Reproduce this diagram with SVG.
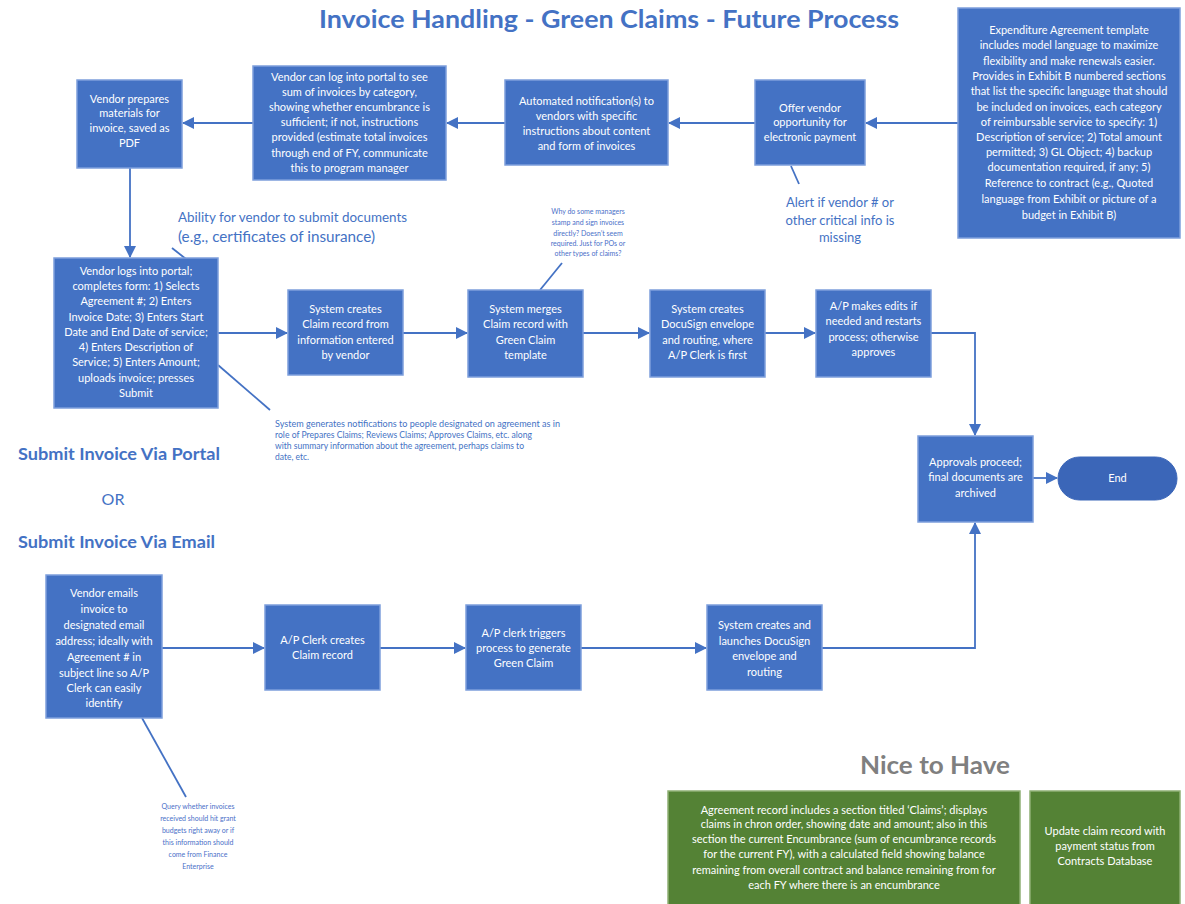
<svg xmlns="http://www.w3.org/2000/svg" width="1185" height="904" viewBox="0 0 1185 904">
<defs>
<marker id="arr" markerUnits="userSpaceOnUse" markerWidth="12" markerHeight="12" refX="11" refY="6" orient="auto">
<path d="M0,0 L12,6 L0,12 z" fill="#4472C4"/>
</marker>
<style>
.box{fill:#4472C4;stroke:#7d9fdc;stroke-width:1.5}
.gbox{fill:#548235;stroke:#8fb074;stroke-width:1.5}
.bt{font-family:Lato,"Liberation Sans",sans-serif;font-size:11px;fill:#ffffff;text-anchor:middle}
.ln{stroke:#4472C4;stroke-width:1.8;fill:none}
.ar{stroke:#4472C4;stroke-width:1.8;fill:none;marker-end:url(#arr)}
.note{font-family:Lato,"Liberation Sans",sans-serif;fill:#4472C4}
.tiny{font-family:Lato,"Liberation Sans",sans-serif;font-size:7px;fill:#4a6fc8;text-anchor:middle}
.lbl{font-family:Lato,"Liberation Sans",sans-serif;font-size:17px;font-weight:bold;fill:#4472C4}
</style>
</defs>
<rect width="1185" height="904" fill="#ffffff"/>
<text x="609" y="28" text-anchor="middle" font-family="Lato,'Liberation Sans',sans-serif" font-size="24" font-weight="bold" fill="#4472C4" textLength="580" lengthAdjust="spacingAndGlyphs">Invoice Handling - Green Claims - Future Process</text>

<g id="connectors">
<line class="ar" x1="958" y1="123" x2="866" y2="123"/>
<line class="ar" x1="755" y1="123" x2="669" y2="123"/>
<line class="ar" x1="505" y1="123" x2="447" y2="123"/>
<line class="ar" x1="253" y1="123" x2="183" y2="123"/>
<line class="ar" x1="130" y1="168" x2="130" y2="257"/>
<line class="ar" x1="218" y1="333" x2="287" y2="333"/>
<line class="ar" x1="403" y1="333" x2="467" y2="333"/>
<line class="ar" x1="583" y1="333" x2="649" y2="333"/>
<line class="ar" x1="765" y1="333" x2="815" y2="333"/>
<polyline class="ar" points="931,333 975,333 975,435"/>
<line class="ar" x1="1033" y1="478" x2="1057" y2="478"/>
<line class="ar" x1="162" y1="648" x2="264" y2="648"/>
<line class="ar" x1="380" y1="648" x2="465" y2="648"/>
<line class="ar" x1="581" y1="648" x2="706" y2="648"/>
<polyline class="ar" points="822,648 975,648 975,523"/>
<line class="ln" x1="791" y1="166" x2="799" y2="184" stroke-width="1.2"/>
<line class="ln" x1="172" y1="248" x2="186" y2="259" stroke-width="1.2"/>
<line class="ln" x1="540" y1="290" x2="562" y2="263" stroke-width="1.2"/>
<line class="ln" x1="218" y1="365" x2="270" y2="410" stroke-width="1.2"/>
<line class="ln" x1="142" y1="718" x2="186" y2="797" stroke-width="1.2"/>
</g>

<g id="n-expenditure">
<rect class="box" x="958" y="8" width="222" height="230"/>
<text class="bt" x="1069" y="34">Expenditure Agreement template</text>
<text class="bt" x="1069" y="49">includes model language to maximize</text>
<text class="bt" x="1069" y="65">flexibility and make renewals easier.</text>
<text class="bt" x="1069" y="80">Provides in Exhibit B numbered sections</text>
<text class="bt" x="1069" y="95">that list the specific language that should</text>
<text class="bt" x="1069" y="111">be included on invoices,  each  category</text>
<text class="bt" x="1069" y="126">of reimbursable service to specify: 1)</text>
<text class="bt" x="1069" y="141">Description of service; 2) Total amount</text>
<text class="bt" x="1069" y="156">permitted; 3) GL Object; 4) backup</text>
<text class="bt" x="1069" y="171">documentation required, if any; 5)</text>
<text class="bt" x="1069" y="187">Reference to contract (e.g., Quoted</text>
<text class="bt" x="1069" y="203">language from Exhibit  or picture of a</text>
<text class="bt" x="1069" y="219">budget in Exhibit B)</text>
</g>

<g id="n-offer">
<rect class="box" x="755" y="80" width="110" height="85"/>
<text class="bt" x="810" y="112">Offer vendor</text>
<text class="bt" x="810" y="126">opportunity for</text>
<text class="bt" x="810" y="141">electronic payment</text>
</g>

<g id="n-automated">
<rect class="box" x="505" y="80" width="163" height="85"/>
<text class="bt" x="586.5" y="105">Automated notification(s) to</text>
<text class="bt" x="586.5" y="120">vendors with specific</text>
<text class="bt" x="586.5" y="135">instructions about content</text>
<text class="bt" x="586.5" y="150">and form of invoices</text>
</g>

<g id="n-portal-sum">
<rect class="box" x="253" y="66" width="193" height="114"/>
<text class="bt" x="349.5" y="81">Vendor can log into portal to see</text>
<text class="bt" x="349.5" y="96">sum of invoices by category,</text>
<text class="bt" x="349.5" y="111">showing whether encumbrance is</text>
<text class="bt" x="349.5" y="126">sufficient; if not, instructions</text>
<text class="bt" x="349.5" y="141">provided (estimate total invoices</text>
<text class="bt" x="349.5" y="157">through end of FY, communicate</text>
<text class="bt" x="349.5" y="172">this to program manager</text>
</g>

<g id="n-prepares">
<rect class="box" x="77" y="80" width="105" height="88"/>
<text class="bt" x="129.5" y="103">Vendor prepares</text>
<text class="bt" x="129.5" y="117">materials for</text>
<text class="bt" x="129.5" y="132">invoice, saved as</text>
<text class="bt" x="129.5" y="147">PDF</text>
</g>

<g id="alert-note">
<text class="note" font-size="13" text-anchor="middle" x="840" y="207">Alert if vendor # or</text>
<text class="note" font-size="13" text-anchor="middle" x="840" y="225">other critical info is</text>
<text class="note" font-size="13" text-anchor="middle" x="840" y="242">missing</text>
</g>

<g id="ability-note">
<text class="note" font-size="14" x="178" y="222" textLength="229" lengthAdjust="spacingAndGlyphs">Ability for vendor to submit documents</text>
<text class="note" font-size="14.5" x="178" y="242" textLength="197" lengthAdjust="spacingAndGlyphs">(e.g., certificates of insurance)</text>
</g>

<g id="why-note">
<text class="tiny" x="588" y="214">Why do some managers</text>
<text class="tiny" x="588" y="225">stamp and sign invoices</text>
<text class="tiny" x="588" y="236">directly? Doesn’t seem</text>
<text class="tiny" x="588" y="246">required. Just for POs or</text>
<text class="tiny" x="588" y="256">other types of claims?</text>
</g>

<g id="n-vendor-logs">
<rect class="box" x="54" y="258" width="164" height="150"/>
<text class="bt" x="136" y="275">Vendor logs into portal;</text>
<text class="bt" x="136" y="290">completes form: 1) Selects</text>
<text class="bt" x="136" y="305">Agreement #; 2) Enters</text>
<text class="bt" x="136" y="321">Invoice Date; 3) Enters Start</text>
<text class="bt" x="136" y="336">Date and End Date of service;</text>
<text class="bt" x="136" y="351">4) Enters Description of</text>
<text class="bt" x="136" y="366">Service; 5) Enters Amount;</text>
<text class="bt" x="136" y="382">uploads invoice;  presses</text>
<text class="bt" x="136" y="397">Submit</text>
</g>

<g id="n-claim-record">
<rect class="box" x="288" y="290" width="115" height="85"/>
<text class="bt" x="345.5" y="313">System creates</text>
<text class="bt" x="345.5" y="328">Claim record from</text>
<text class="bt" x="345.5" y="344">information entered</text>
<text class="bt" x="345.5" y="359">by vendor</text>
</g>

<g id="n-merge">
<rect class="box" x="468" y="290" width="115" height="87"/>
<text class="bt" x="525.5" y="313">System merges</text>
<text class="bt" x="525.5" y="328">Claim record with</text>
<text class="bt" x="525.5" y="344">Green Claim</text>
<text class="bt" x="525.5" y="359">template</text>
</g>

<g id="n-docusign">
<rect class="box" x="650" y="290" width="115" height="87"/>
<text class="bt" x="707.5" y="313">System creates</text>
<text class="bt" x="707.5" y="328">DocuSign envelope</text>
<text class="bt" x="707.5" y="344">and routing, where</text>
<text class="bt" x="707.5" y="359">A/P Clerk is first</text>
</g>

<g id="n-ap-edits">
<rect class="box" x="816" y="290" width="115" height="87"/>
<text class="bt" x="873.5" y="310">A/P makes edits if</text>
<text class="bt" x="873.5" y="325">needed and restarts</text>
<text class="bt" x="873.5" y="341">process; otherwise</text>
<text class="bt" x="873.5" y="356">approves</text>
</g>

<g id="notify-note">
<text class="note" font-size="8.5" x="275" y="427" textLength="285" lengthAdjust="spacingAndGlyphs">System generates notifications to people designated on agreement as in</text>
<text class="note" font-size="8.5" x="275" y="438" textLength="257" lengthAdjust="spacingAndGlyphs">role of Prepares Claims; Reviews Claims; Approves Claims, etc. along</text>
<text class="note" font-size="8.5" x="275" y="449" textLength="249" lengthAdjust="spacingAndGlyphs">with summary information about the agreement, perhaps claims to</text>
<text class="note" font-size="8.5" x="275" y="460">date, etc.</text>
</g>

<g id="n-approvals">
<rect class="box" x="918" y="436" width="115" height="86"/>
<text class="bt" x="975.5" y="466">Approvals proceed;</text>
<text class="bt" x="975.5" y="481">final documents are</text>
<text class="bt" x="975.5" y="497">archived</text>
</g>

<g id="n-end">
<rect x="1058" y="457" width="119" height="43" rx="21.5" ry="21.5" fill="#3b66b8" stroke="#3b66b8"/>
<text class="bt" x="1117.5" y="482">End</text>
</g>

<g id="labels">
<text class="lbl" x="18" y="460" textLength="202" lengthAdjust="spacingAndGlyphs">Submit Invoice Via Portal</text>
<text class="note" font-size="16" text-anchor="middle" x="113" y="505">OR</text>
<text class="lbl" x="18" y="548" textLength="197" lengthAdjust="spacingAndGlyphs">Submit Invoice Via Email</text>
</g>

<g id="n-emails">
<rect class="box" x="46" y="575" width="116" height="143"/>
<text class="bt" x="104" y="597">Vendor emails</text>
<text class="bt" x="104" y="613">invoice to</text>
<text class="bt" x="104" y="629">designated email</text>
<text class="bt" x="104" y="645">address; ideally with</text>
<text class="bt" x="104" y="661">Agreement # in</text>
<text class="bt" x="104" y="677">subject line so A/P</text>
<text class="bt" x="104" y="692">Clerk can easily</text>
<text class="bt" x="104" y="707">identify</text>
</g>

<g id="n-ap-creates">
<rect class="box" x="265" y="605" width="115" height="85"/>
<text class="bt" x="322.5" y="644">A/P Clerk creates</text>
<text class="bt" x="322.5" y="659">Claim record</text>
</g>

<g id="n-ap-triggers">
<rect class="box" x="466" y="605" width="115" height="85"/>
<text class="bt" x="523.5" y="637">A/P clerk triggers</text>
<text class="bt" x="523.5" y="652">process to generate</text>
<text class="bt" x="523.5" y="667">Green Claim</text>
</g>

<g id="n-launch">
<rect class="box" x="707" y="605" width="115" height="85"/>
<text class="bt" x="764.5" y="629">System creates and</text>
<text class="bt" x="764.5" y="645">launches DocuSign</text>
<text class="bt" x="764.5" y="660">envelope and</text>
<text class="bt" x="764.5" y="676">routing</text>
</g>

<g id="query-note">
<text class="tiny" x="198" y="809">Query whether invoices</text>
<text class="tiny" x="198" y="821">received should hit grant</text>
<text class="tiny" x="198" y="833">budgets right away or if</text>
<text class="tiny" x="198" y="845">this information should</text>
<text class="tiny" x="198" y="857">come from Finance</text>
<text class="tiny" x="198" y="869">Enterprise</text>
</g>

<text x="935" y="774" text-anchor="middle" font-family="Lato,'Liberation Sans',sans-serif" font-size="24" font-weight="bold" fill="#7f7f7f" textLength="150" lengthAdjust="spacingAndGlyphs">Nice to Have</text>

<g id="n-agreement-record">
<rect class="gbox" x="668" y="791" width="352" height="114"/>
<text class="bt" x="844" y="814">Agreement record includes a section titled ‘Claims’; displays</text>
<text class="bt" x="844" y="828">claims in chron order, showing date and amount; also in this</text>
<text class="bt" x="844" y="843">section the current Encumbrance (sum of encumbrance records</text>
<text class="bt" x="844" y="858">for the current FY), with a calculated field showing balance</text>
<text class="bt" x="844" y="874">remaining from overall contract and balance remaining from for</text>
<text class="bt" x="844" y="889">each FY where there is an encumbrance</text>
</g>

<g id="n-update-claim">
<rect class="gbox" x="1030" y="791" width="150" height="114"/>
<text class="bt" x="1105" y="835">Update claim record with</text>
<text class="bt" x="1105" y="850">payment status from</text>
<text class="bt" x="1105" y="865">Contracts Database</text>
</g>
</svg>
